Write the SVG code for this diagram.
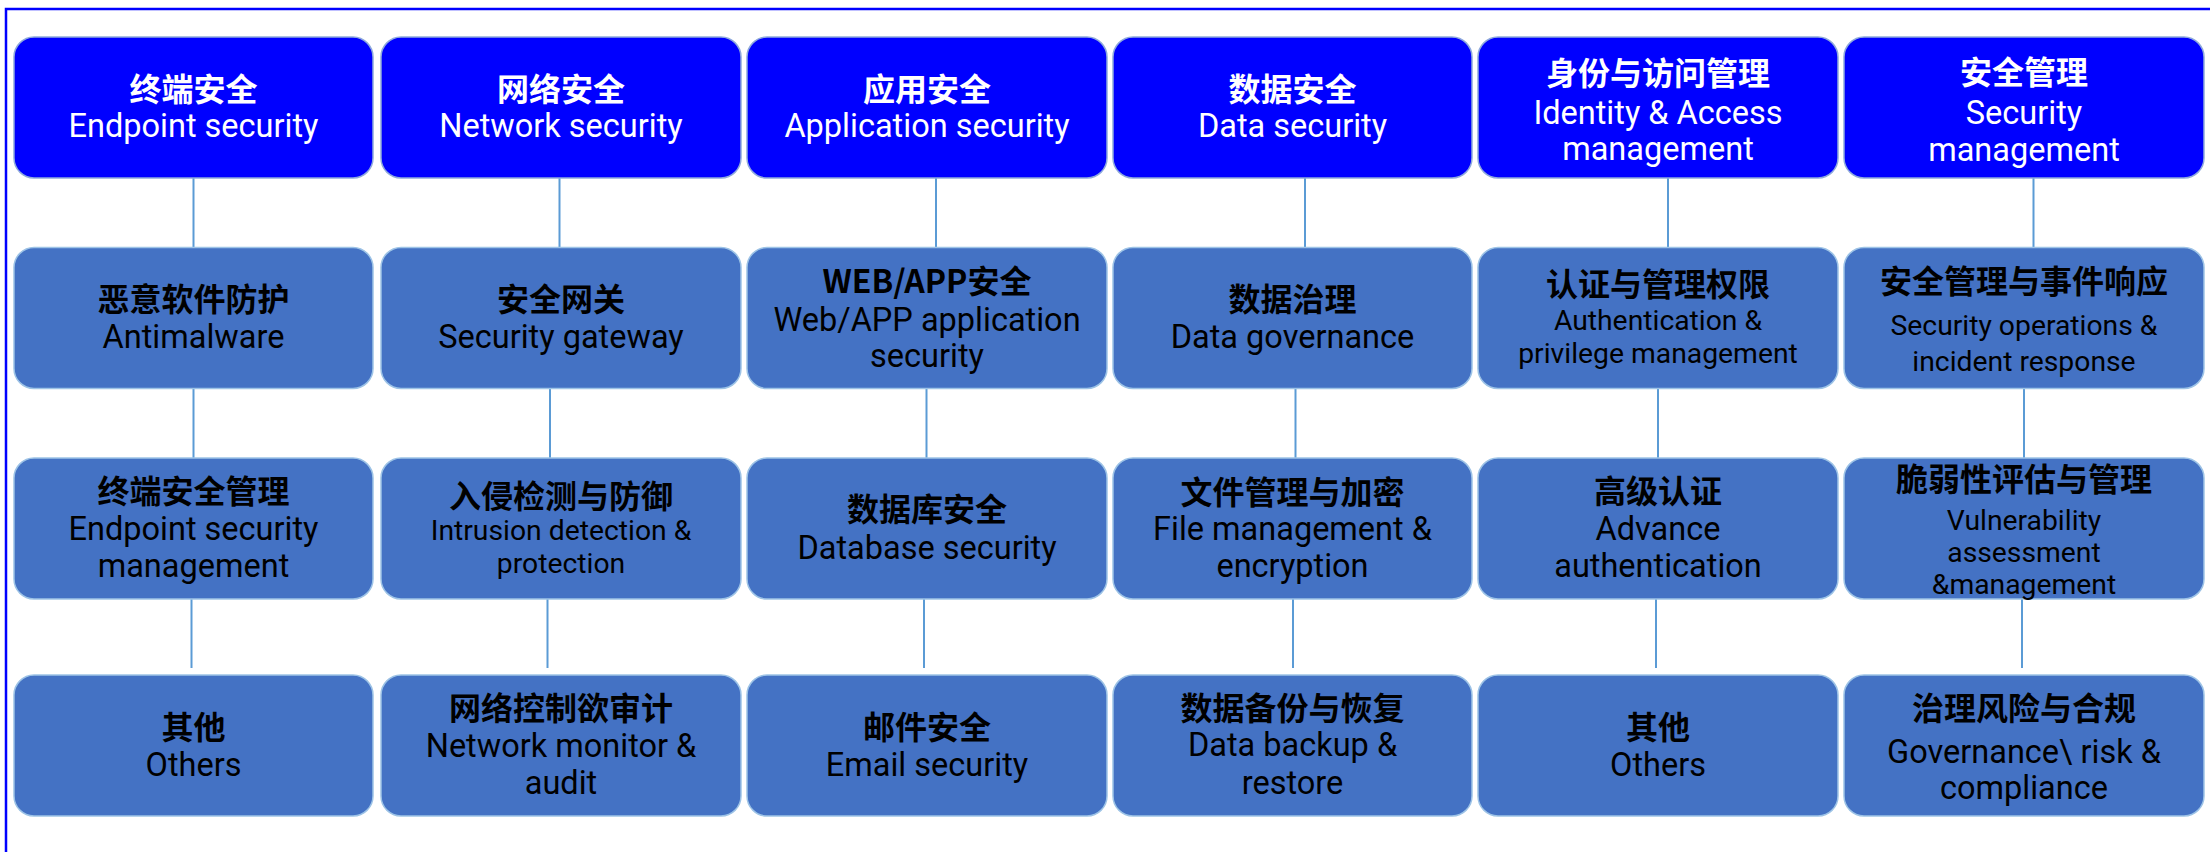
<svg xmlns="http://www.w3.org/2000/svg" width="2210" height="852" viewBox="0 0 2210 852">
<style>
.bg{fill:#ffffff}
.frame{stroke:#0000FF;stroke-width:2.5;fill:none}
.hd{fill:#0000FF;stroke:#8FAADC;stroke-width:1.5}
.sb{fill:#4472C4;stroke:#9DC3E6;stroke-width:1.5}
.conn line{stroke:#5B9BD5;stroke-width:2}
text{text-anchor:middle}
.cn{font-family:"Noto Sans CJK SC","Noto Sans",sans-serif;font-weight:bold;font-size:32px}
.en{font-family:Roboto,"Liberation Sans",sans-serif;font-size:32.5px}
.es{font-family:Roboto,"Liberation Sans",sans-serif;font-size:28.3px}
.w{fill:#ffffff}
.k{fill:#000000}
</style>
<rect class="bg" x="0" y="0" width="2210" height="852"/>
<path class="frame" d="M6,852 V9 H2210"/>
<g id="connectors" class="conn">
<line x1="193.5" y1="178" x2="193.5" y2="247.5"/>
<line x1="193.5" y1="388.5" x2="193.5" y2="458"/>
<line x1="191.5" y1="599" x2="191.5" y2="668"/>
<line x1="559.5" y1="178" x2="559.5" y2="247.5"/>
<line x1="550" y1="388.5" x2="550" y2="458"/>
<line x1="547.5" y1="599" x2="547.5" y2="668"/>
<line x1="936" y1="178" x2="936" y2="247.5"/>
<line x1="926.5" y1="388.5" x2="926.5" y2="458"/>
<line x1="924" y1="599" x2="924" y2="668"/>
<line x1="1305" y1="178" x2="1305" y2="247.5"/>
<line x1="1295.5" y1="388.5" x2="1295.5" y2="458"/>
<line x1="1293" y1="599" x2="1293" y2="668"/>
<line x1="1668" y1="178" x2="1668" y2="247.5"/>
<line x1="1658" y1="388.5" x2="1658" y2="458"/>
<line x1="1656" y1="599" x2="1656" y2="668"/>
<line x1="2033.5" y1="178" x2="2033.5" y2="247.5"/>
<line x1="2024" y1="388.5" x2="2024" y2="458"/>
<line x1="2022" y1="599" x2="2022" y2="668"/>
</g>
<!-- Row 1 -->
<g id="endpoint">
<rect class="hd" x="14" y="37" width="359" height="141" rx="20"/>
<text class="cn w" x="193.5" y="101">终端安全</text>
<text class="en w" x="193.5" y="137">Endpoint security</text>
</g>
<g id="network">
<rect class="hd" x="381" y="37" width="360" height="141" rx="20"/>
<text class="cn w" x="561" y="101">网络安全</text>
<text class="en w" x="561" y="137">Network security</text>
</g>
<g id="application">
<rect class="hd" x="747" y="37" width="360" height="141" rx="20"/>
<text class="cn w" x="927" y="101">应用安全</text>
<text class="en w" x="927" y="137">Application security</text>
</g>
<g id="data">
<rect class="hd" x="1113" y="37" width="359" height="141" rx="20"/>
<text class="cn w" x="1292.5" y="101">数据安全</text>
<text class="en w" x="1292.5" y="137">Data security</text>
</g>
<g id="identity">
<rect class="hd" x="1478" y="37" width="360" height="141" rx="20"/>
<text class="cn w" x="1658" y="85">身份与访问管理</text>
<text class="en w" x="1658" y="124">Identity &amp; Access</text>
<text class="en w" x="1658" y="160">management</text>
</g>
<g id="secmgmt">
<rect class="hd" x="1844" y="37" width="360" height="141" rx="20"/>
<text class="cn w" x="2024" y="84">安全管理</text>
<text class="en w" x="2024" y="124">Security</text>
<text class="en w" x="2024" y="160.5">management</text>
</g>
<!-- Row 2 -->
<g id="antimalware">
<rect class="sb" x="14" y="247.5" width="359" height="141" rx="20"/>
<text class="cn k" x="193.5" y="311">恶意软件防护</text>
<text class="en k" x="193.5" y="348">Antimalware</text>
</g>
<g id="gateway">
<rect class="sb" x="381" y="247.5" width="360" height="141" rx="20"/>
<text class="cn k" x="561" y="311">安全网关</text>
<text class="en k" x="561" y="348">Security gateway</text>
</g>
<g id="webapp">
<rect class="sb" x="747" y="247.5" width="360" height="141" rx="20"/>
<text class="cn k" x="927" y="293">WEB/APP安全</text>
<text class="en k" x="927" y="331">Web/APP application</text>
<text class="en k" x="927" y="367">security</text>
</g>
<g id="governance">
<rect class="sb" x="1113" y="247.5" width="359" height="141" rx="20"/>
<text class="cn k" x="1292.5" y="311">数据治理</text>
<text class="en k" x="1292.5" y="348">Data governance</text>
</g>
<g id="authpriv">
<rect class="sb" x="1478" y="247.5" width="360" height="141" rx="20"/>
<text class="cn k" x="1658" y="296">认证与管理权限</text>
<text class="es k" x="1658" y="330">Authentication &amp;</text>
<text class="es k" x="1658" y="363">privilege management</text>
</g>
<g id="secops">
<rect class="sb" x="1844" y="247.5" width="360" height="141" rx="20"/>
<text class="cn k" x="2024" y="293">安全管理与事件响应</text>
<text class="es k" x="2024" y="334.5">Security operations &amp;</text>
<text class="es k" x="2024" y="371">incident response</text>
</g>
<!-- Row 3 -->
<g id="epmgmt">
<rect class="sb" x="14" y="458" width="359" height="141" rx="20"/>
<text class="cn k" x="193.5" y="502.5">终端安全管理</text>
<text class="en k" x="193.5" y="540">Endpoint security</text>
<text class="en k" x="193.5" y="577">management</text>
</g>
<g id="ids">
<rect class="sb" x="381" y="458" width="360" height="141" rx="20"/>
<text class="cn k" x="561" y="507.5">入侵检测与防御</text>
<text class="es k" x="561" y="540">Intrusion detection &amp;</text>
<text class="es k" x="561" y="572.5">protection</text>
</g>
<g id="database">
<rect class="sb" x="747" y="458" width="360" height="141" rx="20"/>
<text class="cn k" x="927" y="521">数据库安全</text>
<text class="en k" x="927" y="558.5">Database security</text>
</g>
<g id="filemgmt">
<rect class="sb" x="1113" y="458" width="359" height="141" rx="20"/>
<text class="cn k" x="1292.5" y="503.5">文件管理与加密</text>
<text class="en k" x="1292.5" y="539.5">File management &amp;</text>
<text class="en k" x="1292.5" y="577">encryption</text>
</g>
<g id="advauth">
<rect class="sb" x="1478" y="458" width="360" height="141" rx="20"/>
<text class="cn k" x="1658" y="502.5">高级认证</text>
<text class="en k" x="1658" y="539.5">Advance</text>
<text class="en k" x="1658" y="577">authentication</text>
</g>
<g id="vuln">
<rect class="sb" x="1844" y="458" width="360" height="141" rx="20"/>
<text class="cn k" x="2024" y="490.5">脆弱性评估与管理</text>
<text class="es k" x="2024" y="530">Vulnerability</text>
<text class="es k" x="2024" y="562">assessment</text>
<text class="es k" x="2024" y="594">&amp;management</text>
</g>
<!-- Row 4 -->
<g id="others1">
<rect class="sb" x="14" y="675" width="359" height="141" rx="20"/>
<text class="cn k" x="193.5" y="738.5">其他</text>
<text class="en k" x="193.5" y="776">Others</text>
</g>
<g id="netaudit">
<rect class="sb" x="381" y="675" width="360" height="141" rx="20"/>
<text class="cn k" x="561" y="719.5">网络控制欲审计</text>
<text class="en k" x="561" y="757">Network monitor &amp;</text>
<text class="en k" x="561" y="794">audit</text>
</g>
<g id="email">
<rect class="sb" x="747" y="675" width="360" height="141" rx="20"/>
<text class="cn k" x="927" y="738.5">邮件安全</text>
<text class="en k" x="927" y="776">Email security</text>
</g>
<g id="backup">
<rect class="sb" x="1113" y="675" width="359" height="141" rx="20"/>
<text class="cn k" x="1292.5" y="719.5">数据备份与恢复</text>
<text class="en k" x="1292.5" y="756">Data backup &amp;</text>
<text class="en k" x="1292.5" y="793.5">restore</text>
</g>
<g id="others2">
<rect class="sb" x="1478" y="675" width="360" height="141" rx="20"/>
<text class="cn k" x="1658" y="738.5">其他</text>
<text class="en k" x="1658" y="776">Others</text>
</g>
<g id="grc">
<rect class="sb" x="1844" y="675" width="360" height="141" rx="20"/>
<text class="cn k" x="2024" y="719.5">治理风险与合规</text>
<text class="en k" x="2024" y="762.5">Governance\ risk &amp;</text>
<text class="en k" x="2024" y="798.5">compliance</text>
</g>
</svg>
